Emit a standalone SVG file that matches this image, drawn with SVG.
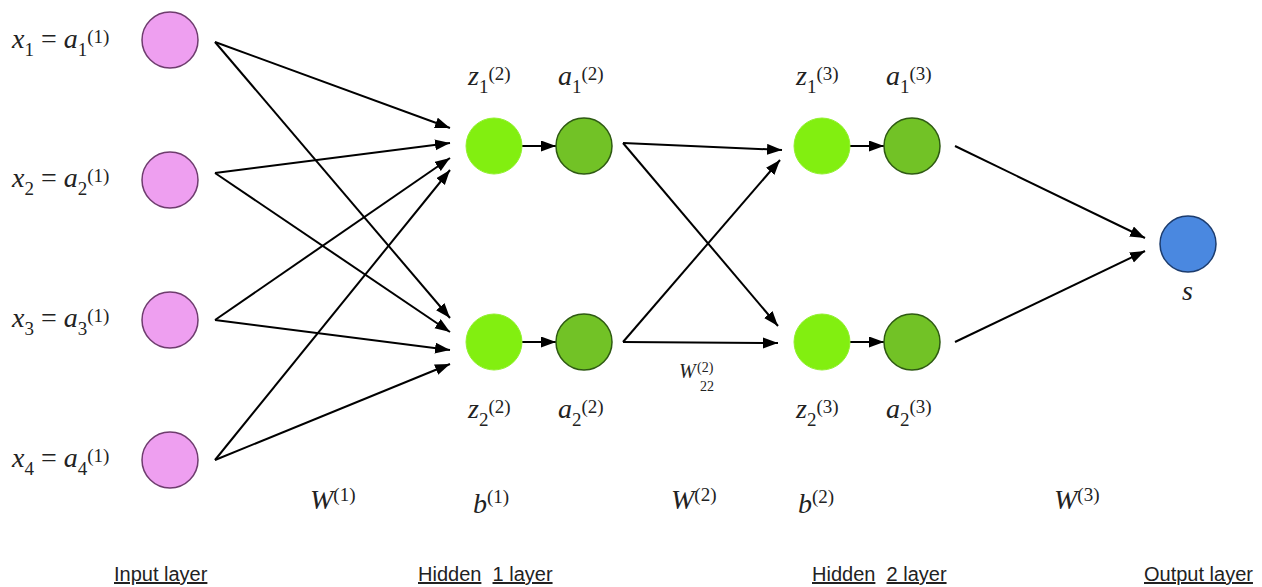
<svg xmlns="http://www.w3.org/2000/svg" width="1262" height="587" viewBox="0 0 1262 587">
<defs>
<style>
.m{font-family:"Liberation Serif","Times New Roman",serif;font-size:28px;fill:#222}
.i{font-style:italic}
.s{font-size:19px}
.w{font-size:20px}
.t{font-size:14px}
.lab{font-family:"Liberation Sans",Arial,sans-serif;font-size:20px;fill:#222}
.u{text-decoration:underline}
.in{fill:#ee9ff0;stroke:#6e3c6e;stroke-width:1.5}
.z{fill:#82ef10;stroke:#92f030;stroke-width:1}
.a{fill:#72c226;stroke:#2e5a12;stroke-width:1.5}
.o{fill:#4a88e0;stroke:#1c3c6e;stroke-width:1.5}
.c line{stroke:#000;stroke-width:2;marker-end:url(#ah)}
</style>
<marker id="ah" markerUnits="userSpaceOnUse" markerWidth="18" markerHeight="12" refX="15" refY="5.5" orient="auto">
<path d="M0,0 L15,5.5 L0,11 z" fill="#000"/>
</marker>
</defs>
<rect width="1262" height="587" fill="#fff"/>

<g class="c" id="connectors">
<line x1="215" y1="42" x2="450" y2="128"/>
<line x1="215" y1="42" x2="450" y2="318"/>
<line x1="215" y1="173" x2="450" y2="143"/>
<line x1="215" y1="173" x2="450" y2="332"/>
<line x1="215" y1="320" x2="450" y2="158"/>
<line x1="215" y1="320" x2="450" y2="350"/>
<line x1="215" y1="460" x2="450" y2="170"/>
<line x1="215" y1="460" x2="450" y2="364"/>
<line x1="522" y1="146" x2="556" y2="146"/>
<line x1="522" y1="342" x2="556" y2="342"/>
<line x1="623" y1="143" x2="782" y2="150"/>
<line x1="623" y1="143" x2="778" y2="326"/>
<line x1="623" y1="342" x2="780" y2="160"/>
<line x1="623" y1="342" x2="778" y2="343"/>
<line x1="850" y1="146" x2="884" y2="146"/>
<line x1="850" y1="342" x2="884" y2="342"/>
<line x1="955" y1="146" x2="1145" y2="238"/>
<line x1="955" y1="342" x2="1145" y2="251"/>
</g>

<g id="x1"><circle class="in" cx="170" cy="40" r="28"/>
<text class="m" x="12" y="48"><tspan class="i">x</tspan><tspan class="s" dy="8">1</tspan><tspan dy="-8"> = </tspan><tspan class="i">a</tspan><tspan class="s" dy="8">1</tspan><tspan class="s" dy="-13">(1)</tspan></text></g>
<g id="x2"><circle class="in" cx="170" cy="180" r="28"/>
<text class="m" x="12" y="187"><tspan class="i">x</tspan><tspan class="s" dy="8">2</tspan><tspan dy="-8"> = </tspan><tspan class="i">a</tspan><tspan class="s" dy="8">2</tspan><tspan class="s" dy="-13">(1)</tspan></text></g>
<g id="x3"><circle class="in" cx="170" cy="320" r="28"/>
<text class="m" x="12" y="327"><tspan class="i">x</tspan><tspan class="s" dy="8">3</tspan><tspan dy="-8"> = </tspan><tspan class="i">a</tspan><tspan class="s" dy="8">3</tspan><tspan class="s" dy="-13">(1)</tspan></text></g>
<g id="x4"><circle class="in" cx="170" cy="460" r="28"/>
<text class="m" x="12" y="467"><tspan class="i">x</tspan><tspan class="s" dy="8">4</tspan><tspan dy="-8"> = </tspan><tspan class="i">a</tspan><tspan class="s" dy="8">4</tspan><tspan class="s" dy="-13">(1)</tspan></text></g>

<g id="z12"><circle class="z" cx="494" cy="146" r="28"/>
<text class="m" x="468" y="85"><tspan class="i">z</tspan><tspan class="s" dy="8">1</tspan><tspan class="s" dy="-13">(2)</tspan></text></g>
<g id="a12"><circle class="a" cx="584" cy="146" r="28"/>
<text class="m" x="558" y="85"><tspan class="i">a</tspan><tspan class="s" dy="8">1</tspan><tspan class="s" dy="-13">(2)</tspan></text></g>
<g id="z22"><circle class="z" cx="494" cy="342" r="28"/>
<text class="m" x="468" y="418"><tspan class="i">z</tspan><tspan class="s" dy="8">2</tspan><tspan class="s" dy="-13">(2)</tspan></text></g>
<g id="a22"><circle class="a" cx="584" cy="342" r="28"/>
<text class="m" x="558" y="418"><tspan class="i">a</tspan><tspan class="s" dy="8">2</tspan><tspan class="s" dy="-13">(2)</tspan></text></g>

<g id="z13"><circle class="z" cx="822" cy="146" r="28"/>
<text class="m" x="796" y="85"><tspan class="i">z</tspan><tspan class="s" dy="8">1</tspan><tspan class="s" dy="-13">(3)</tspan></text></g>
<g id="a13"><circle class="a" cx="912" cy="146" r="28"/>
<text class="m" x="886" y="85"><tspan class="i">a</tspan><tspan class="s" dy="8">1</tspan><tspan class="s" dy="-13">(3)</tspan></text></g>
<g id="z23"><circle class="z" cx="822" cy="342" r="28"/>
<text class="m" x="796" y="418"><tspan class="i">z</tspan><tspan class="s" dy="8">2</tspan><tspan class="s" dy="-13">(3)</tspan></text></g>
<g id="a23"><circle class="a" cx="912" cy="342" r="28"/>
<text class="m" x="886" y="418"><tspan class="i">a</tspan><tspan class="s" dy="8">2</tspan><tspan class="s" dy="-13">(3)</tspan></text></g>

<g id="out"><circle class="o" cx="1188" cy="244" r="28"/>
<text class="m i" x="1182" y="300">s</text></g>

<g id="labels">
<text class="m w i" x="679" y="378">W</text>
<text class="m t" x="697" y="372">(2)</text>
<text class="m t" x="700" y="391">22</text>
<text class="m" x="310" y="509"><tspan class="i">W</tspan><tspan class="s" dy="-8">(1)</tspan></text>
<text class="m" x="473" y="513"><tspan class="i">b</tspan><tspan class="s" dy="-10">(1)</tspan></text>
<text class="m" x="671" y="509"><tspan class="i">W</tspan><tspan class="s" dy="-8">(2)</tspan></text>
<text class="m" x="798" y="513"><tspan class="i">b</tspan><tspan class="s" dy="-10">(2)</tspan></text>
<text class="m" x="1054" y="509"><tspan class="i">W</tspan><tspan class="s" dy="-8">(3)</tspan></text>
<text class="lab u" x="114" y="581">Input layer</text>
<text class="lab" x="418" y="581" xml:space="preserve"><tspan class="u">Hidden</tspan>  <tspan class="u">1 layer</tspan></text>
<text class="lab" x="812" y="581" xml:space="preserve"><tspan class="u">Hidden</tspan>  <tspan class="u">2 layer</tspan></text>
<text class="lab u" x="1144" y="581">Output layer</text>
</g>
</svg>
